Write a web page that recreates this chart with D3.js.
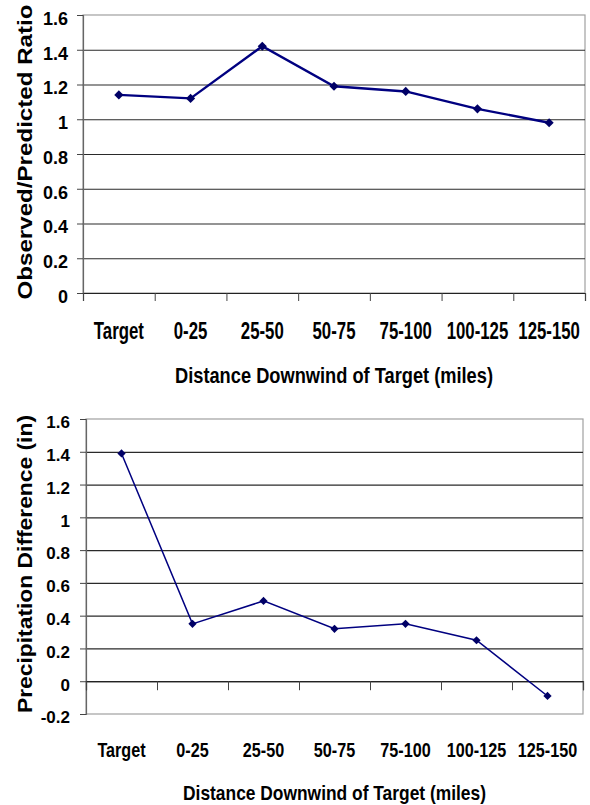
<!DOCTYPE html>
<html>
<head>
<meta charset="utf-8">
<script src="https://cdn.jsdelivr.net/npm/d3@7"></script>
<style>
    body { margin: 0; background: #fff; }
    text { font-family: Arial, "Liberation Sans", sans-serif; font-weight: bold; fill: #000; }
</style>
</head>
<body>
<svg id="chart" width="590" height="805"></svg>
<script>
// data
var categories = ['Target', '0-25', '25-50', '50-75', '75-100', '100-125', '125-150'];
var ratioValues = [1.14, 1.12, 1.42, 1.19, 1.16, 1.06, 0.98];
var precipValues = [1.39, 0.35, 0.49, 0.32, 0.35, 0.25, -0.09];
var ratioTicks = [0, 0.2, 0.4, 0.6, 0.8, 1, 1.2, 1.4, 1.6];
var precipTicks = [-0.2, 0, 0.2, 0.4, 0.6, 0.8, 1, 1.2, 1.4, 1.6];
var xTitle = 'Distance Downwind of Target (miles)';

var svg = d3.select('#chart');

function drawChart(opt) {
    var g = svg.append('g');

    var x = d3.scaleBand().domain(categories).range([opt.left, opt.right]);
    var xb = d3.scaleLinear().domain([0, categories.length]).range([opt.left, opt.right]);
    var y = d3.scaleLinear().domain(opt.domain).range([opt.bottom, opt.top]);

    // plot frame
    g.append('rect')
        .attr('x', opt.left).attr('y', opt.top)
        .attr('width', opt.right - opt.left).attr('height', opt.bottom - opt.top)
        .attr('fill', 'none').attr('stroke', '#a0a0a0').attr('stroke-width', 1.2);

    // gridlines
    var grid = g.append('g')
        .attr('transform', 'translate(' + opt.left + ',0)')
        .call(d3.axisLeft(y).tickValues(opt.ticks.filter(function (d) { return d > opt.domain[0] && d < opt.domain[1]; }))
            .tickSize(-(opt.right - opt.left)).tickFormat(''));
    grid.select('.domain').remove();
    grid.selectAll('line').attr('stroke', '#2a2a2a').attr('stroke-width', 1.2);

    // y axis
    var yAxis = g.append('g')
        .attr('transform', 'translate(' + opt.left + ',0)')
        .call(d3.axisLeft(y).tickValues(opt.ticks).tickSize(6).tickPadding(opt.yPad)
            .tickFormat(function (d) { return String(+d.toFixed(1)); }));
    yAxis.select('.domain').attr('stroke', '#666').attr('stroke-width', 1.2);
    yAxis.selectAll('.tick line').attr('stroke', '#444');
    yAxis.selectAll('text')
        .style('font-size', opt.yFont + 'px')
        .attr('dy', '0.52em');

    // x axis: boundary ticks
    var xAxis = g.append('g')
        .attr('transform', 'translate(0,' + y(0) + ')')
        .call(d3.axisBottom(xb).ticks(categories.length).tickSize(opt.xTick).tickFormat(''));
    xAxis.select('.domain').attr('stroke', '#222').attr('stroke-width', 1.2);
    xAxis.selectAll('.tick line').attr('stroke', '#444');

    // x labels
    var xLab = g.append('g')
        .attr('transform', 'translate(0,' + opt.xLabelY + ')')
        .call(d3.axisBottom(x).tickSize(0).tickPadding(0));
    xLab.select('.domain').remove();
    xLab.selectAll('text')
        .attr('dy', 0)
        .attr('y', 0)
        .style('font-size', opt.xFont + 'px')
        .attr('transform', 'scale(' + opt.xScale + ',1)');

    // axis titles
    g.append('text')
        .attr('x', (opt.left + opt.right) / 2)
        .attr('y', opt.xTitleY)
        .attr('text-anchor', 'middle')
        .style('font-size', opt.titleFont + 'px')
        .attr('textLength', opt.xTitleLen)
        .attr('lengthAdjust', 'spacingAndGlyphs')
        .text(xTitle);

    g.append('text')
        .attr('transform', 'translate(' + opt.yTitleX + ',' + opt.yTitleCY + ') rotate(-90)')
        .attr('text-anchor', 'middle')
        .style('font-size', opt.yTitleFont + 'px')
        .attr('textLength', opt.yTitleLen)
        .attr('lengthAdjust', 'spacingAndGlyphs')
        .text(opt.yTitle);

    // line and markers
    var line = d3.line()
        .x(function (d, i) { return x(categories[i]) + x.bandwidth() / 2; })
        .y(function (d) { return y(d); });

    g.append('path')
        .datum(opt.values)
        .attr('d', line)
        .attr('fill', 'none')
        .attr('stroke', '#000080')
        .attr('stroke-width', opt.lineWidth);

    var diamond = d3.symbol().type(d3.symbolSquare).size(opt.markerSize);
    g.selectAll('.marker')
        .data(opt.values)
        .enter().append('path')
        .attr('class', 'marker')
        .attr('d', diamond)
        .attr('transform', function (d, i) {
            return 'translate(' + (x(categories[i]) + x.bandwidth() / 2) + ',' + y(d) + ') rotate(45)';
        })
        .attr('fill', '#000066');
}

drawChart({
    values: ratioValues, ticks: ratioTicks, domain: [0, 1.6],
    left: 83, right: 585, top: 15, bottom: 293,
    yPad: 9, yFont: 18, xTick: 8,
    xLabelY: 339, xFont: 23, xScale: 0.73,
    xTitleY: 383, titleFont: 22, xTitleLen: 318,
    yTitle: 'Observed/Predicted Ratio', yTitleX: 32, yTitleCY: 152, yTitleFont: 21, yTitleLen: 295,
    lineWidth: 2.4, markerSize: 42
});

drawChart({
    values: precipValues, ticks: precipTicks, domain: [-0.2, 1.6],
    left: 86, right: 583, top: 419, bottom: 714,
    yPad: 10, yFont: 17, xTick: 9,
    xLabelY: 757, xFont: 21, xScale: 0.77,
    xTitleY: 800, titleFont: 21, xTitleLen: 303,
    yTitle: 'Precipitation Difference (in)', yTitleX: 32, yTitleCY: 564, yTitleFont: 19.5, yTitleLen: 298,
    lineWidth: 1.5, markerSize: 34
});
</script>
</body>
</html>
